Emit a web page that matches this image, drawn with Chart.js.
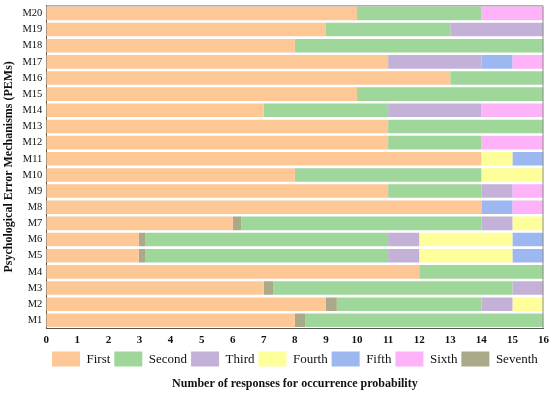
<!DOCTYPE html>
<html>
<head>
<meta charset="utf-8">
<script src="https://cdn.jsdelivr.net/npm/chart.js@4.4.1/dist/chart.umd.min.js"></script>
<style>
  html, body { margin: 0; padding: 0; background: #ffffff; overflow: hidden; }
  #wrap { width: 550px; height: 401px; margin-top: -5px; }
</style>
</head>
<body>
<div id="wrap"><canvas id="c"></canvas></div>
<script>
// categories, bottom (M1) to top (M20)
const mechanisms = ['M1','M2','M3','M4','M5','M6','M7','M8','M9','M10',
                    'M11','M12','M13','M14','M15','M16','M17','M18','M19','M20'];

// number of responses per rank, same order as mechanisms
const first   = [8, 9, 7, 12, 2.98, 2.98, 6, 14, 11, 8, 14, 11, 11, 7, 10, 13, 11, 8, 9, 10];
const seventh = [0.33, 0.35, 0.3, 0, 0.2, 0.2, 0.27, 0, 0, 0, 0, 0, 0, 0, 0, 0, 0, 0, 0, 0];
const second  = [7.67, 4.65, 7.7, 4, 7.82, 7.82, 7.73, 0, 3, 6, 0, 3, 5, 4, 6, 3, 0, 8, 4, 4];
const third   = [0, 1, 1, 0, 1, 1, 1, 0, 1, 0, 0, 0, 0, 3, 0, 0, 3, 0, 3, 0];
const fourth  = [0, 1, 0, 0, 3, 3, 1, 0, 0, 2, 1, 0, 0, 0, 0, 0, 0, 0, 0, 0];
const fifth   = [0, 0, 0, 0, 1, 1, 0, 1, 0, 0, 1, 0, 0, 0, 0, 0, 1, 0, 0, 0];
const sixth   = [0, 0, 0, 0, 0, 0, 0, 1, 1, 0, 0, 2, 0, 2, 0, 0, 1, 0, 0, 2];

const legendOrder = ['First','Second','Third','Fourth','Fifth','Sixth','Seventh'];

const serif = "'Liberation Serif', 'DejaVu Serif', serif";

// draws the grey frame round the plot
const framePlugin = {
  id: 'frame',
  afterDraw(chart) {
    const a = chart.chartArea, ctx = chart.ctx;
    ctx.save();
    ctx.strokeStyle = '#8c8c8c';
    ctx.lineWidth = 1;
    ctx.beginPath();
    ctx.moveTo(a.left, a.top + 0.5);
    ctx.lineTo(a.right - 0.5, a.top + 0.5);
    ctx.lineTo(a.right - 0.5, a.bottom);
    ctx.stroke();
    ctx.restore();
  }
};

function ds(label, data, color) {
  return {
    label: label,
    data: data,
    backgroundColor: color,
    borderWidth: 0,
    barPercentage: 0.84,
    categoryPercentage: 1.0
  };
}

new Chart(document.getElementById('c'), {
  type: 'bar',
  data: {
    labels: mechanisms,
    datasets: [
      ds('First', first, '#fec796'),
      ds('Seventh', seventh, '#aaa98a'),
      ds('Second', second, '#9fd79b'),
      ds('Third', third, '#c3b1d8'),
      ds('Fourth', fourth, '#fefe9a'),
      ds('Fifth', fifth, '#9db8f0'),
      ds('Sixth', sixth, '#feb2f7')
    ]
  },
  options: {
    indexAxis: 'y',
    responsive: true,
    maintainAspectRatio: false,
    animation: false,
    layout: { padding: { top: 0, right: 6, left: 2, bottom: 5 } },
    plugins: {
      legend: {
        position: 'bottom',
        fullSize: false,
        labels: {
          boxWidth: 28,
          boxHeight: 15,
          padding: 4,
          color: '#111',
          font: { family: serif, size: 13 },
          sort: (a, b) => legendOrder.indexOf(a.text) - legendOrder.indexOf(b.text)
        }
      },
      title: {
        display: true,
        position: 'bottom',
        fullSize: false,
        text: 'Number of responses for occurrence probability',
        color: '#111',
        padding: { top: 0, bottom: 0 },
        font: { family: serif, size: 12, weight: 'bold' }
      },
      tooltip: { enabled: false }
    },
    scales: {
      x: {
        stacked: true,
        min: 0,
        max: 16,
        ticks: { stepSize: 1, color: '#111', padding: 1, font: { family: serif, size: 11, weight: 'bold' } },
        grid: { display: false, drawTicks: true, tickLength: 4, color: '#444' },
        border: { color: '#555', width: 1 }
      },
      y: {
        stacked: true,
        reverse: true,
        ticks: { autoSkip: false, color: '#111', padding: 4, font: { family: serif, size: 10.5 } },
        grid: { display: false, drawTicks: false },
        border: { color: '#555', width: 1 },
        title: {
          display: true,
          text: 'Psychological Error Mechanisms (PEMs)',
          color: '#111',
          padding: { top: 0, bottom: 2 },
          font: { family: serif, size: 12, weight: 'bold' }
        }
      }
    }
  },
  plugins: [framePlugin]
});
</script>
</body>
</html>
